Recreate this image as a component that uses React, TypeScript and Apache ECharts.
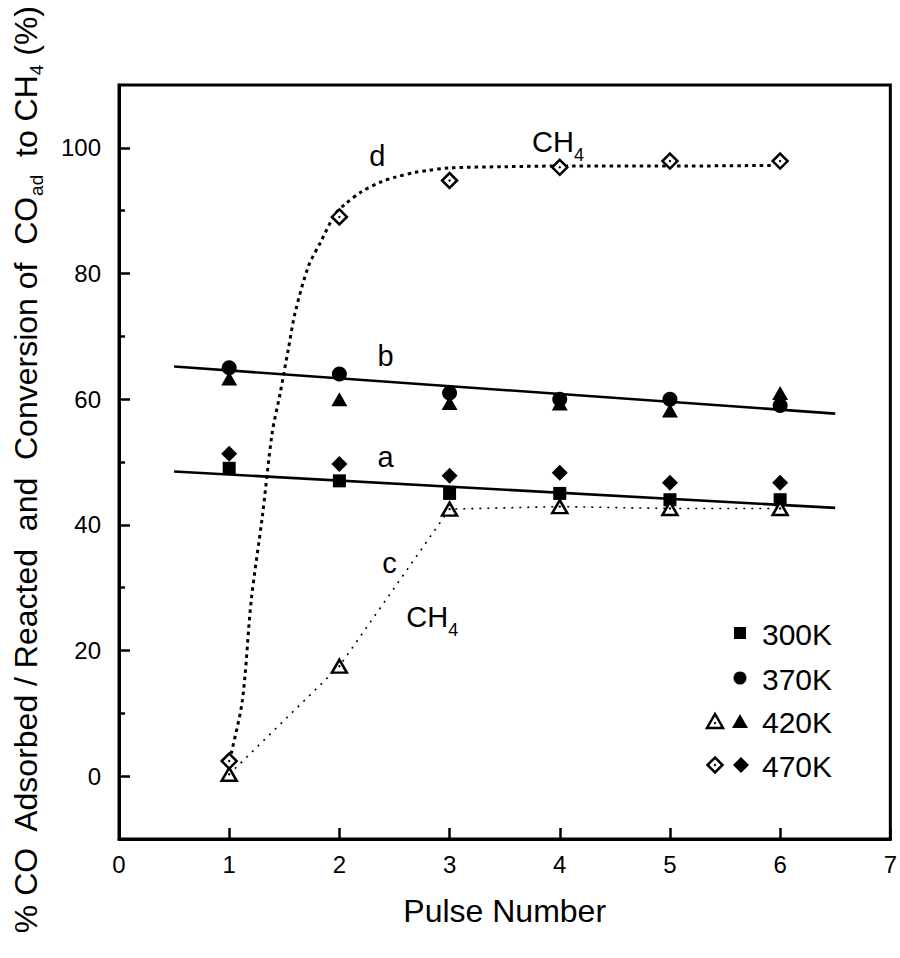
import React, { useEffect, useRef } from 'react';
import * as echarts from 'echarts';

// Pulse numbers
const pulses = [1, 2, 3, 4, 5, 6];
// % CO adsorbed / reacted (filled symbols)
const k300 = [49, 47, 45, 45, 44, 44];
const k370 = [65, 64, 61, 60, 60, 59];
const k420 = [63.3, 60, 59.4, 59.3, 58.2, 61];
const k470 = [51.3, 49.7, 47.8, 48.3, 46.7, 46.7];
// conversion to CH4 (open symbols)
const k420CH4 = [0.3, 17.5, 42.5, 42.9, 42.6, 42.6];
const k470CH4 = [2.4, 89, 94.8, 96.9, 97.9, 97.9];
// fitted lines a and b
const lineAX = [0.5, 6.5];
const lineAY = [48.5, 42.7];
const lineBX = [0.5, 6.5];
const lineBY = [65.2, 57.7];
// curve d
const curveDX = [1, 1.02, 1.12, 1.2, 1.3, 1.39, 1.46, 1.54, 1.6, 1.72, 1.83, 1.96, 2.05, 2.2, 2.38, 2.5, 2.69, 2.8, 2.99, 3.5, 4, 5, 5.92];
const curveDY = [2.4, 3.7, 12.1, 28, 41.2, 54.6, 60.7, 68.3, 73.9, 81.2, 85, 89.4, 91, 93, 94.6, 95.3, 96.1, 96.4, 96.8, 97, 97.1, 97.1, 97.2];
// tick values
const xTicks = [0, 1, 2, 3, 4, 5, 6, 7];
const yMajor = [0, 20, 40, 60, 80, 100];
const yMinor = [10, 30, 50, 70, 90];
// annotations
const annLabels = ['d', 'CH4', 'b', 'a', 'c', 'CH4'];
const annX = [2.345, 3.749, 2.418, 2.418, 2.454, 2.608];
const annY = [98.7, 100.96, 66.9, 50.8, 33.9, 25.3];
// legend
const legendLabels = ['300K', '370K', '420K', '470K'];

const FONT = '"Liberation Sans", Arial, Helvetica, sans-serif';

const zip = (xs: number[], ys: number[]) => xs.map((x, i) => [x, ys[i]]);

export default function App() {
  const ref = useRef<HTMLDivElement>(null);
  useEffect(() => {
    if (!ref.current) return;
    const chart = echarts.init(ref.current, null, { renderer: 'svg' });
    const black = '#000';
    const scatter = (name: string, ys: number[], symbol: string, size: any) => ({
      type: 'scatter',
      name,
      data: zip(pulses, ys),
      symbol,
      symbolSize: size,
      itemStyle: { color: black, opacity: 1 },
      z: 5,
      silent: true,
    });
    const annData = annLabels.map((t, i) => {
      const isCH = t === 'CH4';
      return {
        value: [annX[i], annY[i]],
        label: {
          show: true,
          position: [0, 0],
          align: isCH ? 'left' : 'center',
          verticalAlign: 'middle',
          opacity: 1,
          color: black,
          formatter: isCH ? '{n|CH}{s|4}' : '{n|' + t + '}',
          rich: {
            n: { fontSize: 29, lineHeight: 44, verticalAlign: 'middle', color: black, fontFamily: FONT },
            s: { fontSize: 18, lineHeight: 18, verticalAlign: 'bottom', color: black, fontFamily: FONT },
          },
        },
      };
    });

    const legendRows = [633, 678, 721, 765];
    const graphics: any[] = [
      {
        type: 'text',
        x: 26,
        y: 470,
        rotation: Math.PI / 2,
        style: {
          text: '{n|% CO  Adsorbed / Reacted  and  Conversion of  CO}{s|ad}{n|  to CH}{s|4}{n| (%)}',
          align: 'center',
          verticalAlign: 'middle',
          rich: {
            n: { fontSize: 32, lineHeight: 40, verticalAlign: 'middle', fill: black, fontFamily: FONT },
            s: { fontSize: 19, lineHeight: 19, verticalAlign: 'bottom', fill: black, fontFamily: FONT },
          },
        },
      },
      { type: 'rect', shape: { x: 734, y: legendRows[0] - 6, width: 12, height: 12 }, style: { fill: black } },
      { type: 'circle', shape: { cx: 740, cy: legendRows[1], r: 6.5 }, style: { fill: black } },
      {
        type: 'polygon',
        shape: { points: [[707, legendRows[2] + 7], [723, legendRows[2] + 7], [715, legendRows[2] - 7]] },
        style: { fill: '#fff', stroke: black, lineWidth: 2.5 },
      },
      { type: 'circle', shape: { cx: 715, cy: legendRows[2] + 2, r: 1.2 }, style: { fill: black } },
      {
        type: 'polygon',
        shape: { points: [[732, legendRows[2] + 7], [748, legendRows[2] + 7], [740, legendRows[2] - 7]] },
        style: { fill: black },
      },
      {
        type: 'polygon',
        shape: { points: [[715, legendRows[3] - 7.5], [722.5, legendRows[3]], [715, legendRows[3] + 7.5], [707.5, legendRows[3]]] },
        style: { fill: '#fff', stroke: black, lineWidth: 2.5 },
      },
      { type: 'circle', shape: { cx: 715, cy: legendRows[3], r: 1.2 }, style: { fill: black } },
      {
        type: 'polygon',
        shape: { points: [[741, legendRows[3] - 8], [749, legendRows[3]], [741, legendRows[3] + 8], [733, legendRows[3]]] },
        style: { fill: black },
      },
      ...legendLabels.map((t, i) => ({
        type: 'text',
        x: 762,
        y: legendRows[i] + 1,
        style: { text: t, fontSize: 30, fontFamily: FONT, fill: black, align: 'left', verticalAlign: 'middle' },
      })),
    ];

    chart.setOption({
      animation: false,
      backgroundColor: '#fff',
      textStyle: { fontFamily: FONT, color: black },
      grid: { left: 119, top: 85, width: 773, height: 754, show: true, borderColor: black, borderWidth: 3, containLabel: false },
      xAxis: {
        type: 'value',
        min: 0,
        max: 7,
        interval: 1,
        name: 'Pulse Number',
        nameLocation: 'middle',
        nameGap: 56,
        nameTextStyle: { fontSize: 32, color: black, fontFamily: FONT },
        axisLine: { show: true, onZero: false, lineStyle: { color: black, width: 3 } },
        axisTick: { show: true, inside: true, length: 11, lineStyle: { color: black, width: 2.5 } },
        axisLabel: { show: true, fontSize: 24, color: black, margin: 13, customValues: xTicks, showMinLabel: true, showMaxLabel: true },
        splitLine: { show: false },
      },
      yAxis: [
        {
          type: 'value',
          min: -10,
          max: 110,
          interval: 10,
          position: 'left',
          axisLine: { show: true, onZero: false, lineStyle: { color: black, width: 3 } },
          axisTick: { show: true, inside: true, length: 11, lineStyle: { color: black, width: 2.5 }, customValues: yMajor },
          axisLabel: { show: true, fontSize: 24, color: black, margin: 18, customValues: yMajor },
          splitLine: { show: false },
        },
        {
          type: 'value',
          min: -10,
          max: 110,
          interval: 10,
          position: 'left',
          axisLine: { show: false, onZero: false },
          axisTick: { show: true, inside: true, length: 6, lineStyle: { color: black, width: 2.5 }, customValues: yMinor },
          axisLabel: { show: false },
          splitLine: { show: false },
        },
      ],
      graphic: graphics,
      series: [
        {
          type: 'line', name: 'a', data: zip(lineAX, lineAY), symbol: 'none',
          lineStyle: { color: black, width: 2.6 }, z: 2, silent: true,
        },
        {
          type: 'line', name: 'b', data: zip(lineBX, lineBY), symbol: 'none',
          lineStyle: { color: black, width: 2.6 }, z: 2, silent: true,
        },
        {
          type: 'line', name: 'd', data: zip(curveDX, curveDY), symbol: 'none', smooth: 0.3,
          lineStyle: { color: black, width: 3, type: [3.5, 4] }, z: 2, silent: true,
        },
        {
          type: 'line', name: 'c', data: zip(pulses, k420CH4), symbol: 'none',
          lineStyle: { color: black, width: 1.6, type: [2, 6] }, z: 2, silent: true,
        },
        scatter('300K', k300, 'rect', 13),
        scatter('370K', k370, 'circle', 15),
        scatter('420K', k420, 'triangle', [16, 14]),
        scatter('470K', k470, 'diamond', 16),
        {
          type: 'scatter', name: '420K CH4', data: zip(pulses, k420CH4), symbol: 'triangle', symbolSize: [15, 13],
          itemStyle: { color: '#fff', borderColor: black, borderWidth: 2.5, opacity: 1 }, z: 6, silent: true,
        },
        {
          type: 'scatter', name: '470K CH4', data: zip(pulses, k470CH4), symbol: 'diamond', symbolSize: 15,
          itemStyle: { color: '#fff', borderColor: black, borderWidth: 2.5, opacity: 1 }, z: 6, silent: true,
        },
        {
          type: 'scatter', name: 'dots', data: [...zip(pulses, k420CH4), ...zip(pulses, k470CH4)], symbol: 'circle', symbolSize: 2.4,
          itemStyle: { color: black, opacity: 1 }, z: 7, silent: true,
        },
        {
          type: 'scatter', name: 'labels', data: annData, symbol: 'circle', symbolSize: 0,
          itemStyle: { color: 'rgba(0,0,0,0)', opacity: 1 }, z: 8, silent: true,
        },
      ],
    });
    return () => chart.dispose();
  }, []);
  return <div ref={ref} style={{ position: 'fixed', left: 0, top: 0, width: 900, height: 958, background: '#fff' }} />;
}
